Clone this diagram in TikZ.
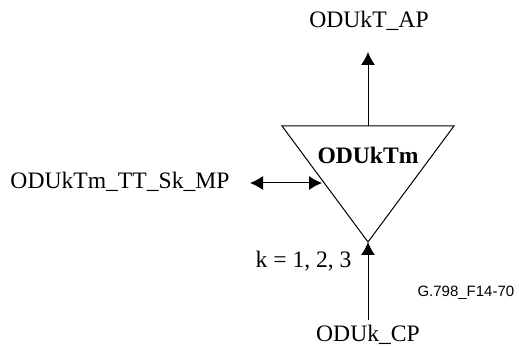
\documentclass[tikz,border=0pt]{standalone}
\usepackage{fontspec}
\setmainfont{Liberation Serif}
\setsansfont{Liberation Sans}
\usetikzlibrary{arrows.meta}

\begin{document}
\begin{tikzpicture}[x=0.5pt,y=-0.5pt,>={Latex[length=6.5pt,width=7pt]},
                    font=\fontsize{11.8}{14}\selectfont,line width=0.5pt,
                    every node/.style={inner sep=0pt}]
  \useasboundingbox (0,0) rectangle (519,347);
  \coordinate (tl) at (282,126);
  \coordinate (tr) at (454,126);
  \coordinate (apex) at (368,242);
  \coordinate (topmid) at (368,126);
  \draw (tl) -- (tr) -- (apex) -- cycle;
  \node[font=\fontsize{11.8}{14}\selectfont\bfseries] (odutm) at (368,155) {ODUkTm};
  \node[anchor=base] (ap) at (369,28) {ODUkT\_AP};
  \coordinate (aptip) at (368,52);
  \draw[->] (topmid) -- (aptip);
  \node[anchor=base west] (mp) at (10,189) {ODUkTm\_TT\_Sk\_MP};
  \coordinate (mpend) at (250,183);
  \coordinate (mptri) at (322,183);
  \draw[<->] (mpend) -- (mptri);
  \node[anchor=base] (cp) at (368,341) {ODUk\_CP};
  \coordinate (cptop) at (368,320);
  \draw[->] (cptop) -- (apex);
  \node[anchor=base east] (kval) at (352,268) {k = 1, 2, 3};
  \node[anchor=base west,font=\sffamily\fontsize{7.5}{9}\selectfont] (fig) at (417,296) {G.798\_F14-70};
\end{tikzpicture}
\end{document}
